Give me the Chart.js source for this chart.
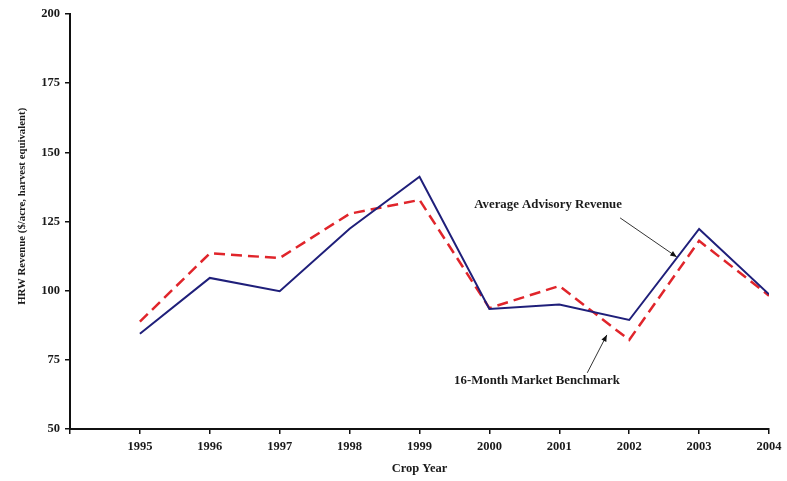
<!DOCTYPE html>
<html>
<head>
<meta charset="utf-8">
<script src="https://cdn.jsdelivr.net/npm/chart.js@4.4.1/dist/chart.umd.min.js"></script>
<style>
  html, body { margin: 0; padding: 0; background: #ffffff; }
  #wrap { position: relative; width: 787px; height: 481px; }
</style>
</head>
<body>
<div id="wrap"><canvas id="hrw-chart" width="787" height="481"></canvas></div>
<script>
// HRW wheat revenue by crop year: advisory programs vs 16-month benchmark
var years = [1995, 1996, 1997, 1998, 1999, 2000, 2001, 2002, 2003, 2004];
var advisoryRevenue = [84.4, 104.6, 99.8, 122.4, 141.2, 93.4, 95.0, 89.4, 122.3, 98.7];
var benchmarkRevenue = [88.8, 113.5, 111.8, 127.8, 132.8, 93.7, 101.7, 82.2, 118.0, 98.2];
var yTicks = [50, 75, 100, 125, 150, 175, 200];
var yTitle = 'HRW Revenue ($/acre, harvest equivalent)';

var SERIF = "'Liberation Serif', 'Times New Roman', serif";

function toPoints(vals) {
  var pts = [];
  for (var i = 0; i < years.length; i++) pts.push({ x: years[i], y: vals[i] });
  return pts;
}

// Callout labels with arrows, placed in data coordinates
var callouts = [
  { text: 'Average Advisory Revenue', tx: 2000.84, ty: 131.0, from: [2001.87, 126.3], to: [2002.68, 112.2] },
  { text: '16-Month Market Benchmark', tx: 2000.68, ty: 67.4, from: [2001.40, 70.3], to: [2001.68, 84.0] }
];

var calloutPlugin = {
  id: 'callouts',
  afterDatasetsDraw: function(chart) {
    var ctx = chart.ctx, xs = chart.scales.x, ys = chart.scales.y;
    ctx.save();
    ctx.textAlign = 'center';
    ctx.textBaseline = 'middle';

    // y axis title, sits above the middle of the axis like the original
    ctx.save();
    ctx.font = 'bold 10.8px ' + SERIF;
    ctx.fillStyle = '#1a1a1a';
    ctx.translate(xs.left - 48, ys.getPixelForValue(130.5));
    ctx.rotate(-Math.PI / 2);
    ctx.fillText(yTitle, 0, 0);
    ctx.restore();

    ctx.font = 'bold 12.8px ' + SERIF;
    callouts.forEach(function(c) {
      ctx.fillStyle = '#1a1a1a';
      ctx.fillText(c.text, xs.getPixelForValue(c.tx), ys.getPixelForValue(c.ty));
      var x1 = xs.getPixelForValue(c.from[0]), y1 = ys.getPixelForValue(c.from[1]);
      var x2 = xs.getPixelForValue(c.to[0]), y2 = ys.getPixelForValue(c.to[1]);
      ctx.strokeStyle = '#333333';
      ctx.lineWidth = 1;
      ctx.beginPath();
      ctx.moveTo(x1, y1);
      ctx.lineTo(x2, y2);
      ctx.stroke();
      var a = Math.atan2(y2 - y1, x2 - x1), len = 7, w = 0.4;
      ctx.fillStyle = '#111111';
      ctx.beginPath();
      ctx.moveTo(x2, y2);
      ctx.lineTo(x2 - len * Math.cos(a - w), y2 - len * Math.sin(a - w));
      ctx.lineTo(x2 - len * Math.cos(a + w), y2 - len * Math.sin(a + w));
      ctx.closePath();
      ctx.fill();
    });
    ctx.restore();
  }
};

new Chart(document.getElementById('hrw-chart').getContext('2d'), {
  type: 'line',
  data: {
    datasets: [{
      label: 'Average Advisory Revenue',
      data: toPoints(advisoryRevenue),
      borderColor: '#1f1f7a',
      borderWidth: 2,
      pointRadius: 0,
      tension: 0,
      fill: false
    }, {
      label: '16-Month Market Benchmark',
      data: toPoints(benchmarkRevenue),
      borderColor: '#e0252b',
      borderWidth: 2.5,
      borderDash: [11, 6],
      pointRadius: 0,
      tension: 0,
      fill: false
    }]
  },
  options: {
    responsive: false,
    animation: false,
    layout: { padding: { top: 14, right: 18, left: 0, bottom: 5 } },
    plugins: { legend: { display: false }, tooltip: { enabled: false } },
    scales: {
      x: {
        type: 'linear',
        min: 1994,
        max: 2004,
        afterFit: function(scale) { scale.height = 47; },
        afterBuildTicks: function(scale) {
          var t = [{ value: 1994 }];
          years.forEach(function(y) { t.push({ value: y }); });
          scale.ticks = t;
        },
        ticks: {
          color: '#1a1a1a',
          padding: 5,
          font: { family: SERIF, size: 12.5, weight: 'bold' },
          callback: function(v) { return v === 1994 ? '' : String(v); }
        },
        grid: { drawOnChartArea: false, drawTicks: true, tickLength: 5, color: '#111111', lineWidth: 1.5 },
        border: { display: true, color: '#111111', width: 2 },
        title: {
          display: true,
          text: 'Crop Year',
          color: '#1a1a1a',
          padding: { top: 1, bottom: 0 },
          font: { family: SERIF, size: 12.5, weight: 'bold' }
        }
      },
      y: {
        min: 50,
        max: 200,
        afterFit: function(scale) { scale.width = 70; },
        afterBuildTicks: function(scale) {
          scale.ticks = yTicks.map(function(v) { return { value: v }; });
        },
        ticks: {
          color: '#1a1a1a',
          padding: 5,
          font: { family: SERIF, size: 12.5, weight: 'bold' }
        },
        grid: { drawOnChartArea: false, drawTicks: true, tickLength: 5, color: '#111111', lineWidth: 1.5 },
        border: { display: true, color: '#111111', width: 2 },
        title: { display: false }
      }
    }
  },
  plugins: [calloutPlugin]
});
</script>
</body>
</html>
